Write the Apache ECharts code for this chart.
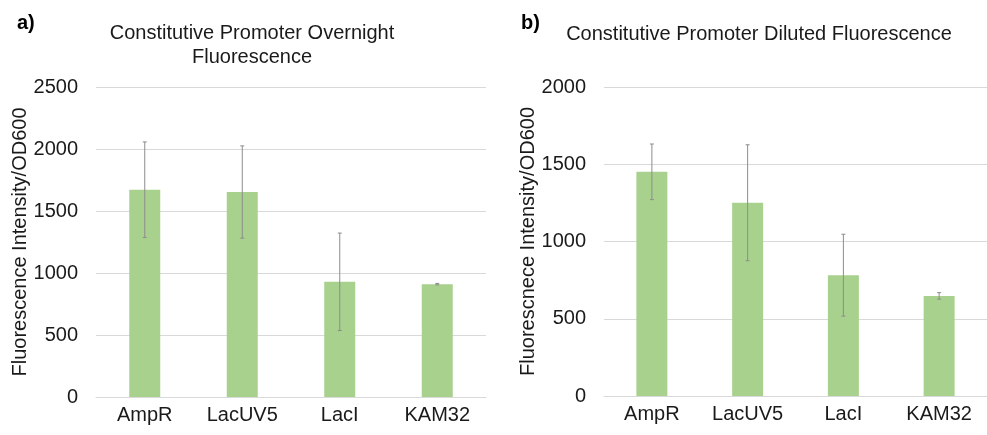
<!DOCTYPE html>
<html>
<head>
<meta charset="utf-8">
<script src="https://cdn.jsdelivr.net/npm/echarts@6/dist/echarts.min.js"></script>
<style>
  html, body { margin: 0; padding: 0; background: #fff; }
  #chart { width: 987px; height: 435px; }
</style>
</head>
<body>
<div id="chart"></div>
<script>
// promoters on the x axis
var promoters = ['AmpR', 'LacUV5', 'LacI', 'KAM32'];

// a) overnight
var overnightMean = [1672, 1653, 929, 910];
var overnightErr = [385, 372, 393, 6];

// b) diluted
var dilutedMean = [1451, 1251, 782, 648];
var dilutedErr = [180, 375, 265, 21];

var FONT = '"Liberation Sans", Arial, sans-serif';
var BAR = '#a9d18e';
var GRIDLINE = '#d9d9d9';

// error bars drawn through the axis scales
function errorBars(means, errs, idx) {
  var rows = means.map(function (m, i) { return [i, m - errs[i], m + errs[i]]; });
  return {
    type: 'custom',
    xAxisIndex: idx,
    yAxisIndex: idx,
    data: rows,
    z: 5,
    renderItem: function (params, api) {
      var lo = api.coord([api.value(0), api.value(1)]);
      var hi = api.coord([api.value(0), api.value(2)]);
      var cap = 2;
      var st = { stroke: '#8c8c8c', lineWidth: 1 };
      return {
        type: 'group',
        children: [
          { type: 'line', shape: { x1: hi[0], y1: hi[1], x2: lo[0], y2: lo[1] }, style: st },
          { type: 'line', shape: { x1: hi[0] - cap, y1: hi[1], x2: hi[0] + cap, y2: hi[1] }, style: st },
          { type: 'line', shape: { x1: lo[0] - cap, y1: lo[1], x2: lo[0] + cap, y2: lo[1] }, style: st }
        ]
      };
    }
  };
}

function xAxis(idx) {
  return {
    type: 'category',
    gridIndex: idx,
    data: promoters,
    axisLine: { lineStyle: { color: GRIDLINE } },
    axisTick: { show: false },
    axisLabel: { color: '#1a1a1a', fontSize: 20, fontFamily: FONT, margin: 8 }
  };
}

function yAxis(idx, max, name) {
  return {
    type: 'value',
    gridIndex: idx,
    min: 0,
    max: max,
    interval: 500,
    name: name,
    nameLocation: 'middle',
    nameGap: 66,
    nameMoveOverlap: false,
    nameTextStyle: { color: '#1a1a1a', fontSize: 20, fontFamily: FONT },
    axisLine: { show: false },
    axisTick: { show: false },
    splitLine: { lineStyle: { color: GRIDLINE } },
    axisLabel: {
      color: '#1a1a1a', fontSize: 20, fontFamily: FONT, margin: 18,
      formatter: function (v) { return String(v); }
    }
  };
}

var chart = echarts.init(document.getElementById('chart'), null, { renderer: 'canvas' });

chart.setOption({
  animation: false,
  title: [
    { text: 'a)', left: 12, top: 8, textStyle: { fontSize: 20, fontWeight: 'bold', color: '#000', fontFamily: FONT } },
    { text: 'b)', left: 516, top: 8, textStyle: { fontSize: 20, fontWeight: 'bold', color: '#000', fontFamily: FONT } },
    {
      text: 'Constitutive Promoter Overnight\nFluorescence',
      left: 247, top: 16, textAlign: 'center',
      textStyle: { fontSize: 20, fontWeight: 'normal', color: '#1a1a1a', fontFamily: FONT, lineHeight: 24 }
    },
    {
      text: 'Constitutive Promoter Diluted Fluorescence',
      left: 754, top: 19, textAlign: 'center',
      textStyle: { fontSize: 20, fontWeight: 'normal', color: '#1a1a1a', fontFamily: FONT }
    }
  ],
  grid: [
    { left: 96, right: 501, top: 87, bottom: 38 },
    { left: 604, right: -7, top: 87, bottom: 39 }
  ],
  xAxis: [xAxis(0), xAxis(1)],
  yAxis: [
    yAxis(0, 2500, 'Fluorescence Intensity/OD600'),
    yAxis(1, 2000, 'Fluorescnece Intensity/OD600')
  ],
  series: [
    { type: 'bar', xAxisIndex: 0, yAxisIndex: 0, data: overnightMean, barWidth: 31, itemStyle: { color: BAR } },
    { type: 'bar', xAxisIndex: 1, yAxisIndex: 1, data: dilutedMean, barWidth: 31, itemStyle: { color: BAR } },
    errorBars(overnightMean, overnightErr, 0),
    errorBars(dilutedMean, dilutedErr, 1)
  ]
});
</script>
</body>
</html>
